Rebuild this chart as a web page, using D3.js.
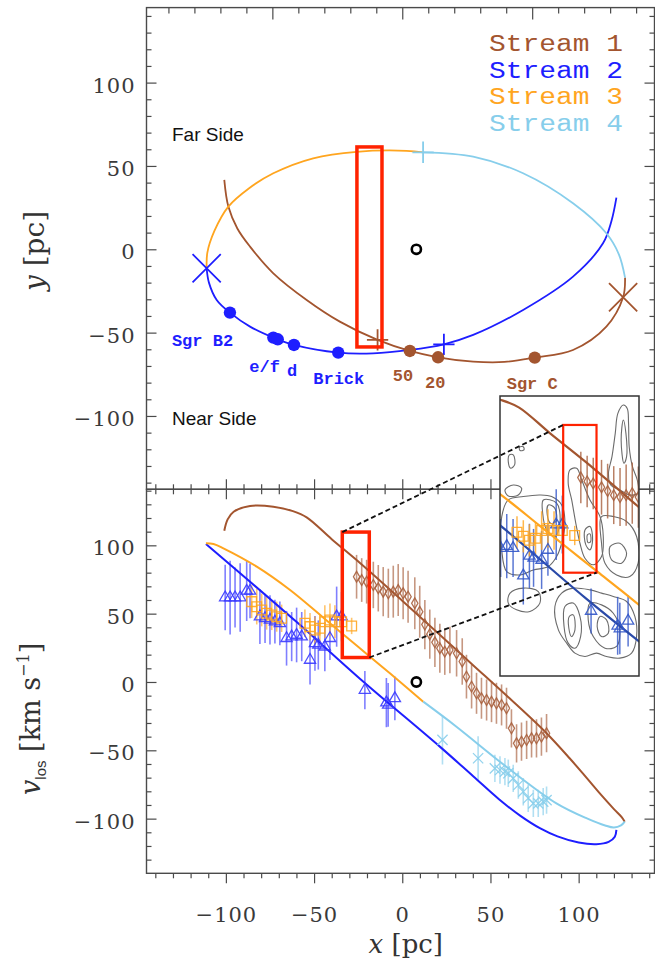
<!DOCTYPE html>
<html>
<head>
<meta charset="utf-8">
<script src="https://cdn.jsdelivr.net/npm/d3@7"></script>
<style>
  body { margin: 0; background: #fff; }
  svg { display: block; }
</style>
</head>
<body>
<svg id="chart" width="655" height="960"></svg>
<script>
// ---------------- data ----------------
const streamNames  = ["Stream 1", "Stream 2", "Stream 3", "Stream 4"];
const streamColors = ["#a3552f", "#1e1eff", "#ffa51f", "#87ceeb"];

const xTicks = [-100, -50, 0, 50, 100];
const yTicks = [-100, -50, 0, 50, 100];
const vTicks = [-100, -50, 0, 50, 100];
const lonMajorTicks = [-0.5, 0, 0.5];          // Galactic longitude (deg) along the top edge

// Face-on orbit segments, [x, y] in pc
const orbitStream1 = [[-100.9,41.6],[-98.6,25.6],[-93.5,12.5],[-86.3,1.6],[-73.1,-14.4],[-54.2,-30.4],
  [-35.4,-43.4],[-14,-54.4],[4.3,-61],[20.3,-64.8],[40.2,-67.4],[58,-67.6],[75.1,-65],[96.8,-60.4],
  [115.7,-46.4],[125.2,-28.8],[126.3,-17]];
const orbitStream2 = [[-110.9,-11.4],[-109.6,-20],[-105.2,-30.4],[-97.7,-38],[-86.3,-46.4],[-72,-53.5],
  [-61.4,-57.4],[-36.3,-62],[-16.5,-62.4],[4.3,-60.4],[23.6,-57],[40.2,-51.4],[68.5,-36.4],[96.8,-16.4],
  [113.8,3.6],[118.6,17],[121.4,31]];
const orbitStream3 = [[-110.9,-11.4],[-110.5,-2],[-106.5,11],[-98.6,25.6],[-87,36.5],[-73.1,45.6],
  [-50.5,54.6],[-25.9,58.5],[2.4,59.1],[11.8,58.2]];
const orbitStream4 = [[11.8,58.2],[40.2,55.6],[68.5,45.6],[96.8,27.6],[115.7,9.6],[122.8,-3],[126.3,-17]];

// Line-of-sight velocity of each model segment, [x (pc), v (km/s)]
const velStream1 = [[-100.9,110.7],[-99,119],[-95.6,124.6],[-86.3,128.8],[-73.1,128.3],[-62,125],
  [-54.2,120.5],[-40,104.5],[-23.8,86.9],[0,59.5],[20,36],[40,12.5],[60,-11],[81.8,-37.5],[95,-56],
  [104.4,-70],[113,-83],[120,-93],[124.5,-99],[126.1,-102.2]];
const velStream2 = [[-111.3,101],[-60,44],[-24,2.4],[21.3,-47.3],[40.2,-69],[55,-86],[67,-98],
  [78,-107],[88,-113],[100,-117.5],[110,-118.7],[117,-117],[120.5,-113.2],[121.4,-108.2]];
const velStream3 = [[-111.3,101.5],[-107,101],[-101.4,97.8],[-82.5,84.4],[-63.6,67.3],[-44.7,47],
  [-33.4,34.8],[-18.3,18.5],[-7,6.4],[11.9,-14.4]];
const velStream4 = [[11.9,-14.4],[30,-32],[59,-62],[87.4,-88.8],[105,-100],[115,-105],[120,-106.5],
  [124,-105],[126.1,-102.2]];

// Observed velocities, [x (pc), v (km/s), error (km/s)]
const obsStream1 = [[-25.9,77,16],[-23,74.6,16],[-20.2,73.4,16],[-16.4,71,17],[-13.6,68.6,17],
  [-10.8,66.1,18],[-7.9,64.9,18],[-5.1,66.1,19],[-2.3,67.3,19],[0.5,64.9,19],[3.3,62.4,19],[7.1,57.6,19],
  [9.9,51.4,19],[12.8,42,18],[15.6,35,18],[18.5,29,18],[21.3,24.7,18],[24.1,22.2,17],[27,23.4,17],
  [30.8,21,17],[34,15,17],[36.4,3.9,16],[39.3,-3.4,16],[42.1,-8.3,15],[44.9,-11.9,15],[47.8,-13.2,15],
  [50.6,-14.4,15],[53.4,-15.6,15],[56.3,-16.8,15],[59.1,-19.2,15],[61.9,-33.9,14],[64.8,-44.9,14],
  [67.6,-43.7,14],[70.5,-42.4,14],[73.3,-41.2,14],[76.1,-41.2,14],[78.9,-40,14],[81.8,-37.5,14]];
const obsStream2 = [[-100.4,61.8,24],[-97.6,61.8,27],[-94.8,61.8,22],[-91.9,61.8,25],[-88.2,66.6,22],
  [-86.3,66.6,20],[-80.7,47.8,20],[-77.8,46.6,18],[-75,45.4,18],[-72.2,44.1,16],[-69.4,42.9,16],
  [-65.6,32,20],[-62.7,33.2,18],[-59.9,34.4,20],[-57,33.2,18],[-52.3,16.1,18],[-49.5,28.3,20],
  [-47.6,27.1,18],[-43.9,25.8,18],[-41,32,16],[-37.2,47.8,22],[-34.4,47.8,18],[-21.2,-5.9,14],
  [-9,-15.1,18],[-8,-16.8,16],[-4.2,-12,16]];
const obsStream3 = [[-85.4,58.8,12],[-82.5,55.1,13],[-79.7,52.7,12],[-76.9,50.3,12],[-74,49,11],
  [-71.2,47.8,11],[-68.4,46.6,10],[-55.2,43,10],[-52.3,40.5,10],[-49.5,38,10],[-46.7,39.3,10],
  [-43.9,44.1,12],[-41,45.4,12],[-38.2,44.1,12],[-34.4,44.1,10],[-28.7,41,6]];
const obsStream4 = [[22.8,-42.4,18],[43,-55.8,16],[52.5,-63.2,10],[55.4,-64.4,10],[58.2,-65.6,10],
  [60.1,-66.8,10],[62.9,-70.5,10],[65.8,-75.4,10],[68.6,-80.3,10],[71.4,-85.1,10],[74.3,-88.8,10],
  [77.1,-88.8,10],[79.9,-87.6,10],[81.8,-86.4,10]];

// Named clouds on the orbit, [x, y] in pc, with their stream
const cloudNames   = ["Sgr B2", "e/f", "", "d", "Brick", "50", "20", "Sgr C"];
const cloudX       = [-97.7, -73.1, -70.6, -61.4, -36.3, 4.3, 20.3, 75.1];
const cloudY       = [-38, -53, -54, -57.4, -62, -61, -64.8, -65];
const cloudStream  = [1, 1, 1, 1, 1, 0, 0, 0];

// Pericentre crosses and segment-joint plus signs, [x, y, stream]
const orbitCrosses = [[-110.9,-11.4,1],[125.2,-28.8,0]];
const orbitPluses  = [[23.6,-57,1],[-14,-54.4,0],[11.8,58.2,3]];

const sgrAstar = [8, 0];                               // Sgr A* position

// Highlighted windows: [x0, x1, low, high]
const boxFaceOn  = [-25.7, -11.5, -58.6, 61.4];
const boxVelocity = [-34, -18.7, 17.9, 109.7];
// Zoomed velocity window shown in the inset: [x0, x1, v0, v1]
const insetWindow = [-63, 0.8, -46.3, 127.7];

// Emission contours in the zoomed window, rings of [x, v]
const insetContours = [
  [[-6.4,122.1],[-4.6,120],[-4,110.7],[-3.7,96.2],[-2.2,83.8],[0,75.5],[0.4,67.3],[-3.4,66.2],[-8,69.3],
   [-12.2,72.4],[-13.2,79.7],[-11.6,90],[-10.1,104.5],[-8.9,116.9]],
  [[-6.4,112.8],[-5.2,104.5],[-4.9,90],[-6.1,85.9],[-7.4,100.4]],
  [[-30.9,81.8],[-27.8,82.8],[-25.5,75.5],[-21.7,63.1],[-17.1,52.8],[-15.6,40.4],[-16.4,27.9],[-20.2,22.8],
   [-24,26.9],[-26.3,36.2],[-28.2,48.6],[-30.1,63.1],[-31.7,73.5]],
  [[-24,44.5],[-21.7,46.6],[-20.5,38.3],[-21.7,32.1],[-23.6,35.2]],
  [[-22.9,41.4],[-21.7,42],[-21.4,37.2],[-22.6,36.6]],
  [[-37.8,-3.1],[-34.7,5.2],[-29.4,8.3],[-21.7,7.2],[-16.4,5.2],[-11,3.1],[-4.9,0],[-1.1,-9.3],[-0.3,-21.7],
   [-2.6,-32.1],[-8,-35.2],[-14.1,-34.2],[-18.7,-32.1],[-24,-34.2],[-28.6,-32.1],[-32.4,-25.9],[-36.2,-17.6]],
  [[-33.2,-3.1],[-29.4,-1],[-26.3,-9.3],[-26,-21.8],[-28.6,-29],[-31.7,-25.9],[-33.6,-15.5]],
  [[-31.2,-9.3],[-29.4,-8.3],[-28.6,-17.6],[-30.1,-21.8],[-31.4,-16.6]],
  [[-21.7,-1],[-16.4,-2.1],[-11,-7.3],[-8,-17.6],[-9.5,-27.9],[-14.8,-29],[-20.2,-21.8],[-22.5,-11.4]],
  [[-17.1,-9.3],[-14.1,-11.4],[-13.3,-19.7],[-16.4,-21.8],[-18.4,-15.5]],
  [[-58.4,5.2],[-52.3,8.3],[-45.4,6.2],[-44.7,-1],[-49.3,-6.2],[-55.4,-5.2],[-59.2,-1]],
  [[-62.2,52.8],[-59.2,63.1],[-52.3,65.2],[-44.7,66.2],[-39.3,65.2],[-34.7,60],[-33.2,48.6],[-34.7,36.2],
   [-37,27.9],[-40.8,21.7],[-47.7,19.6],[-53.8,16.5],[-59.9,18.6],[-62.2,32.1]],
  [[-43.1,63.1],[-37,61.1],[-35.5,48.6],[-37.8,40.4],[-41.6,44.5],[-43.4,54.8]],
  [[-40.8,60],[-37.8,57.9],[-37.3,49.7],[-39.8,48.6],[-41.3,53.8]],
  [[-58.7,91.1],[-56.9,91.1],[-56.3,84.9],[-58.1,82.8],[-59.2,86.9]],
  [[-54.1,95.8],[-52.3,96.2],[-52,94.2],[-53.8,93.8]],
  [[-60.7,69.3],[-56.9,72.4],[-53.1,70.4],[-54.6,66.2],[-59.2,65.6]],
  [[-16.4,52.8],[-11,52.8],[-4.9,49.7],[-0.3,40.4],[0.4,23.8],[-3.4,15.5],[-9.5,16.5],[-14.8,23.8],[-16.4,36.2]],
  [[-12.5,34.1],[-8,36.2],[-4.9,30],[-7.2,23.8],[-11.8,25.9]]
];

// ---------------- layout ----------------
const svg = d3.select("#chart");
const L = 146.5, R = 654.5, T = 7.6, MID = 489.3, B = 873.3;

const x    = d3.scaleLinear().domain([-145, 143]).range([L, R]);
const yTop = d3.scaleLinear().domain([-144, 145]).range([MID, T]);
const yBot = d3.scaleLinear().domain([-140, 141]).range([B, MID]);
const pcPerDeg = 147.3;
const lon  = d3.scaleLinear().domain([-145 / pcPerDeg, 143 / pcPerDeg]).range([L, R]);

const axisColor = "#4a4a4a";
const numFont = "'DejaVu Serif', serif";

// clip regions for the two panels
const defs = svg.append("defs");
defs.append("clipPath").attr("id", "clipTop").append("rect")
  .attr("x", L).attr("y", T).attr("width", R - L).attr("height", MID - T);
defs.append("clipPath").attr("id", "clipBot").append("rect")
  .attr("x", L).attr("y", MID).attr("width", R - L).attr("height", B - MID);

// ---------------- ticks ----------------
function minorValues(lo, hi, step, majors) {
  return d3.range(lo, hi + step / 2, step)
    .map(v => Math.round(v * 1000) / 1000)
    .filter(v => !majors.some(m => Math.abs(m - v) < 1e-6));
}
function tickSet(axisGen, scale, values, len, tx, ty) {
  svg.append("g")
    .attr("transform", `translate(${tx},${ty})`)
    .call(axisGen(scale).tickValues(values).tickSize(-len).tickFormat(""))
    .call(g => g.select(".domain").remove())
    .call(g => g.selectAll("line").attr("stroke", axisColor).attr("stroke-width", 1.2));
}
const MAJ = 10, MIN = 5;
const xMinor = minorValues(-140, 140, 10, xTicks);
const yMinorTop = minorValues(-140, 140, 10, yTicks);
const vMinor = minorValues(-130, 140, 10, vTicks);
const lonMinor = minorValues(-0.9, 0.9, 0.1, lonMajorTicks);

// top panel
tickSet(d3.axisLeft,  yTop, yTicks, MAJ, L, 0);
tickSet(d3.axisLeft,  yTop, yMinorTop, MIN, L, 0);
tickSet(d3.axisRight, yTop, yTicks, MAJ, R, 0);
tickSet(d3.axisRight, yTop, yMinorTop, MIN, R, 0);
tickSet(d3.axisTop,   lon,  lonMajorTicks, MAJ + 2, 0, T);
tickSet(d3.axisTop,   lon,  lonMinor, MIN + 1, 0, T);
tickSet(d3.axisBottom, x, xTicks, MAJ, 0, MID);
tickSet(d3.axisBottom, x, xMinor, MIN, 0, MID);
// bottom panel
tickSet(d3.axisLeft,  yBot, vTicks, MAJ, L, 0);
tickSet(d3.axisLeft,  yBot, vMinor, MIN, L, 0);
tickSet(d3.axisRight, yBot, vTicks, MAJ, R, 0);
tickSet(d3.axisRight, yBot, vMinor, MIN, R, 0);
tickSet(d3.axisTop,   x, xTicks, MAJ, 0, MID);
tickSet(d3.axisTop,   x, xMinor, MIN, 0, MID);
tickSet(d3.axisTop,   x, xTicks, MAJ, 0, B);
tickSet(d3.axisTop,   x, xMinor, MIN, 0, B);

// tick labels
function labelAxis(axisGen, scale, values, pad, tx, ty, dy) {
  const g = svg.append("g")
    .attr("transform", `translate(${tx},${ty})`)
    .call(axisGen(scale).tickValues(values).tickSize(0).tickPadding(pad))
    .call(g => g.select(".domain").remove());
  g.selectAll("text")
    .attr("font-family", numFont).attr("font-size", 21).attr("fill", "#3a3a3a")
    .attr("letter-spacing", 1);
  if (dy) g.selectAll("text").attr("dy", dy);
}
labelAxis(d3.axisLeft, yTop, yTicks, 11, L, 0, "0.45em");
labelAxis(d3.axisLeft, yBot, vTicks, 11, L, 0, "0.45em");
labelAxis(d3.axisBottom, x, xTicks, 34, 0, B, "0.71em");

// ---------------- frames ----------------
svg.append("rect").attr("x", L).attr("y", T).attr("width", R - L).attr("height", MID - T)
  .attr("fill", "none").attr("stroke", axisColor).attr("stroke-width", 1.4);
svg.append("rect").attr("x", L).attr("y", MID).attr("width", R - L).attr("height", B - MID)
  .attr("fill", "none").attr("stroke", axisColor).attr("stroke-width", 1.4);

// ---------------- top panel: face-on orbit ----------------
const topG = svg.append("g").attr("clip-path", "url(#clipTop)");
const lineTop = d3.line().x(d => x(d[0])).y(d => yTop(d[1])).curve(d3.curveCatmullRom.alpha(0.5));
[orbitStream1, orbitStream2, orbitStream3, orbitStream4].forEach((seg, i) => {
  topG.append("path").attr("d", lineTop(seg)).attr("fill", "none")
    .attr("stroke", streamColors[i]).attr("stroke-width", 1.8);
});

topG.selectAll("path.cross").data(orbitCrosses).join("path")
  .attr("d", d3.symbol(d3.symbolX, 520))
  .attr("transform", d => `translate(${x(d[0])},${yTop(d[1])})`)
  .attr("fill", "none").attr("stroke", d => streamColors[d[2]]).attr("stroke-width", 1.8);
topG.selectAll("path.plus").data(orbitPluses).join("path")
  .attr("d", d3.symbol(d3.symbolPlus, 150))
  .attr("transform", d => `translate(${x(d[0])},${yTop(d[1])})`)
  .attr("fill", "none").attr("stroke", d => streamColors[d[2]]).attr("stroke-width", 1.8);

topG.selectAll("circle.cloud").data(cloudX).join("circle")
  .attr("cx", d => x(d)).attr("cy", (d, i) => yTop(cloudY[i])).attr("r", 6.2)
  .attr("fill", (d, i) => streamColors[cloudStream[i]]);

// cloud labels, offset (px) from their dots
const cloudLabelOffset = [[-58, 33], [-24, 34], [0, 0], [-7, 31], [-25, 31], [-17, 30], [-13, 31], [-28, 31]];
svg.append("g").selectAll("text").data(cloudNames).join("text")
  .attr("x", (d, i) => x(cloudX[i]) + cloudLabelOffset[i][0])
  .attr("y", (d, i) => yTop(cloudY[i]) + cloudLabelOffset[i][1])
  .attr("font-family", "'Liberation Mono', monospace").attr("font-weight", "bold").attr("font-size", 17)
  .attr("fill", (d, i) => streamColors[cloudStream[i]])
  .text(d => d);

// Sgr A*
topG.append("circle").attr("cx", x(sgrAstar[0])).attr("cy", yTop(sgrAstar[1])).attr("r", 4.6)
  .attr("fill", "none").attr("stroke", "#000").attr("stroke-width", 2.6);

// highlighted window
topG.append("rect")
  .attr("x", x(boxFaceOn[0])).attr("y", yTop(boxFaceOn[3]))
  .attr("width", x(boxFaceOn[1]) - x(boxFaceOn[0])).attr("height", yTop(boxFaceOn[2]) - yTop(boxFaceOn[3]))
  .attr("fill", "none").attr("stroke", "#ff2200").attr("stroke-width", 3.5);

// side annotations
svg.append("text").attr("x", 172).attr("y", 141).attr("font-family", "'Liberation Sans', Arial, sans-serif")
  .attr("font-size", 19).attr("fill", "#111").text("Far Side");
svg.append("text").attr("x", 172).attr("y", 425).attr("font-family", "'Liberation Sans', Arial, sans-serif")
  .attr("font-size", 19).attr("fill", "#111").text("Near Side");

// legend
svg.append("g").selectAll("text").data(streamNames).join("text")
  .attr("x", 489).attr("y", (d, i) => 51 + i * 26.5)
  .attr("font-family", "'Liberation Mono', monospace").attr("font-size", 23.5)
  .attr("textLength", 134).attr("lengthAdjust", "spacingAndGlyphs")
  .attr("fill", (d, i) => streamColors[i]).text(d => d);

// ---------------- bottom panel: line-of-sight velocity ----------------
const botG = svg.append("g").attr("clip-path", "url(#clipBot)");
const obsSets = [obsStream1, obsStream2, obsStream3, obsStream4];
const velSets = [velStream1, velStream2, velStream3, velStream4];
const markerTypes = [d3.symbolDiamond, d3.symbolTriangle, d3.symbolSquare, d3.symbolX];
const markerSizes = [34, 55, 95, 70];

function drawVelocity(g, sx, sy, opts) {
  obsSets.forEach((obs, i) => {
    g.append("g").selectAll("line").data(obs).join("line")
      .attr("x1", d => sx(d[0])).attr("x2", d => sx(d[0]))
      .attr("y1", d => sy(d[1] - d[2])).attr("y2", d => sy(d[1] + d[2]))
      .attr("stroke", opts.barColors[i]).attr("stroke-opacity", opts.barOpacity)
      .attr("stroke-width", opts.barWidth);
  });
  const ln = d3.line().x(d => sx(d[0])).y(d => sy(d[1])).curve(d3.curveCatmullRom.alpha(0.5));
  velSets.forEach((seg, i) => {
    g.append("path").attr("d", ln(seg)).attr("fill", "none")
      .attr("stroke", opts.lineColors[i]).attr("stroke-width", opts.lineWidth);
  });
  obsSets.forEach((obs, i) => {
    g.append("g").selectAll("path").data(obs).join("path")
      .attr("d", d3.symbol(markerTypes[i], markerSizes[i] * opts.markerScale))
      .attr("transform", d => `translate(${sx(d[0])},${sy(d[1])})`)
      .attr("fill", "none").attr("stroke", opts.barColors[i]).attr("stroke-opacity", 0.9)
      .attr("stroke-width", 1.3);
  });
}
drawVelocity(botG, x, yBot, {
  barColors: ["#a8603e", "#3a3aff", "#ffa51f", "#87ceeb"],
  lineColors: streamColors, barOpacity: 0.65, barWidth: 1.6, lineWidth: 2, markerScale: 1
});

botG.append("circle").attr("cx", x(sgrAstar[0])).attr("cy", yBot(sgrAstar[1])).attr("r", 4.6)
  .attr("fill", "none").attr("stroke", "#000").attr("stroke-width", 2.6);

botG.append("rect")
  .attr("x", x(boxVelocity[0])).attr("y", yBot(boxVelocity[3]))
  .attr("width", x(boxVelocity[1]) - x(boxVelocity[0])).attr("height", yBot(boxVelocity[2]) - yBot(boxVelocity[3]))
  .attr("fill", "none").attr("stroke", "#ff2200").attr("stroke-width", 3.5);

// ---------------- inset: zoom on the velocity window ----------------
const IL = 500, IR = 639, IT = 396, IB = 676;
const ix = d3.scaleLinear().domain([insetWindow[0], insetWindow[1]]).range([IL, IR]);
const iv = d3.scaleLinear().domain([insetWindow[2], insetWindow[3]]).range([IB, IT]);
defs.append("clipPath").attr("id", "clipInset").append("rect")
  .attr("x", IL).attr("y", IT).attr("width", IR - IL).attr("height", IB - IT);

svg.append("rect").attr("x", IL).attr("y", IT).attr("width", IR - IL).attr("height", IB - IT).attr("fill", "#fff");
const insetG = svg.append("g").attr("clip-path", "url(#clipInset)");
const ring = d3.line().x(d => ix(d[0])).y(d => iv(d[1])).curve(d3.curveCatmullRomClosed.alpha(0.5));
insetG.append("g").selectAll("path").data(insetContours).join("path")
  .attr("d", ring).attr("fill", "none").attr("stroke", "#6b6b6b").attr("stroke-width", 1.1);

drawVelocity(insetG, ix, iv, {
  barColors: ["#a8603e", "#3155c8", "#ffa51f", "#87ceeb"],
  lineColors: ["#a3552f", "#2a4aa8", "#ffa51f", "#87ceeb"],
  barOpacity: 0.8, barWidth: 1.5, lineWidth: 2.2, markerScale: 1
});
insetG.append("rect")
  .attr("x", ix(boxVelocity[0])).attr("y", iv(boxVelocity[3]))
  .attr("width", ix(boxVelocity[1]) - ix(boxVelocity[0])).attr("height", iv(boxVelocity[2]) - iv(boxVelocity[3]))
  .attr("fill", "none").attr("stroke", "#ff2200").attr("stroke-width", 2.2);
svg.append("rect").attr("x", IL).attr("y", IT).attr("width", IR - IL).attr("height", IB - IT)
  .attr("fill", "none").attr("stroke", "#333").attr("stroke-width", 1.5);

// connector lines between the window and its zoom
const connectors = [
  [[x(boxVelocity[0]), yBot(boxVelocity[3])], [ix(boxVelocity[0]), iv(boxVelocity[3])]],
  [[x(boxVelocity[1]), yBot(boxVelocity[2])], [ix(boxVelocity[1]), iv(boxVelocity[2])]]
];
svg.append("g").selectAll("line").data(connectors).join("line")
  .attr("x1", d => d[0][0]).attr("y1", d => d[0][1]).attr("x2", d => d[1][0]).attr("y2", d => d[1][1])
  .attr("stroke", "#111").attr("stroke-width", 1.8).attr("stroke-dasharray", "5,3");

// ---------------- axis titles ----------------
const xTitle = svg.append("text").attr("x", x(2)).attr("y", 953).attr("text-anchor", "middle")
  .attr("font-family", numFont).attr("font-size", 26).attr("fill", "#333");
xTitle.append("tspan").attr("font-style", "italic").text("x");
xTitle.append("tspan").text(" [pc]");

const yTitle = svg.append("text").attr("transform", `translate(44,${yTop(-1)}) rotate(-90)`)
  .attr("text-anchor", "middle").attr("font-family", numFont).attr("font-size", 28).attr("fill", "#333");
yTitle.append("tspan").attr("font-style", "italic").text("y");
yTitle.append("tspan").text(" [pc]");

const vTitle = svg.append("text").attr("transform", `translate(40,${yBot(-27)}) rotate(-90)`)
  .attr("text-anchor", "middle").attr("font-family", numFont).attr("font-size", 27).attr("fill", "#333");
vTitle.append("tspan").attr("font-style", "italic").text("v");
vTitle.append("tspan").attr("font-family", "'Liberation Sans', sans-serif").attr("font-size", 15)
  .attr("dy", 6).text("los");
vTitle.append("tspan").attr("dy", -6).text(" [km s");
vTitle.append("tspan").attr("font-size", 16).attr("dy", -11).text("−1");
vTitle.append("tspan").attr("dy", 11).text("]");
</script>
</body>
</html>
